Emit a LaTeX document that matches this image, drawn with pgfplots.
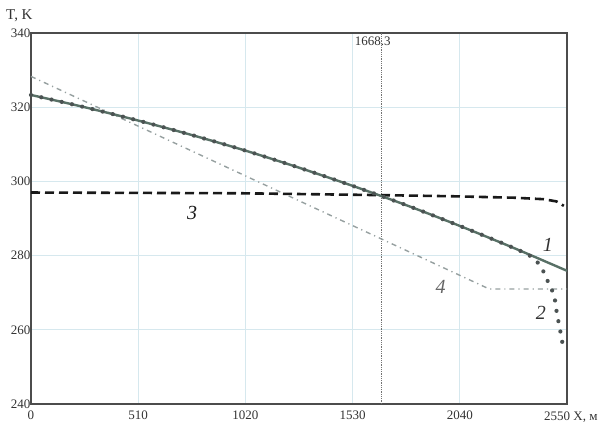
\documentclass[border=0pt]{standalone}
\usepackage{fontspec}
\setmainfont{Liberation Serif}
\usepackage{pgfplots}
\pgfplotsset{compat=1.18}
\definecolor{gridc}{RGB}{214,232,238}
\definecolor{c1}{RGB}{88,112,102}
\definecolor{c4}{RGB}{150,160,160}
\definecolor{c2}{RGB}{75,82,82}
\begin{document}
\begin{tikzpicture}
\begin{axis}[
 scale only axis, width=536pt, height=371pt,
 xmin=0,xmax=2550,ymin=240,ymax=340,
 xtick={0,510,1020,1530,2040,2550},
 xticklabels={0,510,1020,1530,2040,{}},
 ytick={240,260,280,300,320,340},
 major tick length=0pt,
 grid=major, major grid style={gridc, line width=0.8pt},
 axis line style={black!70, line width=1.2pt},
 tick label style={font=\fontsize{13}{15}\selectfont, text=black!80},
 /pgf/number format/assume math mode=true,
 /pgf/number format/set thousands separator={},
 xticklabel style={yshift=-3pt},
 yticklabel style={xshift=3pt},
 clip=false,
]
% marker line
\addplot[black!55, densely dotted, line width=0.8pt] coordinates {(1668.3,240) (1668.3,340)};
% curve 4
\addplot[c4, line width=1.4pt, dash pattern=on 5pt off 4pt on 1.2pt off 4pt] coordinates {
(0,328.3) (2180,271) (2550,271)};
% curve 3
\addplot[black!90, line width=2.6pt, dash pattern=on 9pt off 5pt] coordinates {
(0,297) (1000,296.8) (1668,296.3) (2000,296) (2300,295.6) (2440,295.2) (2500,294.6) (2535,293.4)};
% curve 1
\addplot[c1, line width=2.4pt, smooth] coordinates {
(0,323.3) (255,320.0) (510,316.4) (765,312.5) (1020,308.3) (1275,303.7) (1530,298.8) (1785,293.6) (2040,288.0) (2295,282.1) (2550,275.9)};
% curve 2
\addplot[c2, line width=4.2pt, line cap=round, dash pattern=on 0pt off 10.5pt, smooth] coordinates {
(0,323.3) (255,320.0) (510,316.4) (765,312.5) (1020,308.3) (1275,303.7) (1530,298.8) (1785,293.6) (2040,288.0) (2295,282.1) (2393,279.2) (2440,275.5) (2464,272.3) (2488,269.4) (2498,265.8) (2507,262.9) (2517,260) (2528,256.5)};
\node[font=\fontsize{20}{21}\selectfont\itshape, text=black!80] at (axis cs:2459,283) {1};
\node[font=\fontsize{20}{21}\selectfont\itshape, text=black!80] at (axis cs:2426,264.5) {2};
\node[font=\fontsize{20}{21}\selectfont\itshape, text=black!90] at (axis cs:767,291.5) {3};
\node[font=\fontsize{20}{21}\selectfont\itshape, text=black!60] at (axis cs:1949,271.5) {4};
\node[font=\fontsize{13}{15}\selectfont, text=black!80, anchor=north, inner sep=1pt] at ([xshift=-9pt,yshift=-3pt]axis cs:1668.3,340) {1668.3};
\node[font=\fontsize{13}{15}\selectfont, text=black!80, anchor=base west, inner sep=0pt] at ([xshift=-23pt,yshift=-17pt]rel axis cs:1,0) {2550\ X, м};
\node[font=\fontsize{15}{17}\selectfont, text=black!80, anchor=west, inner sep=0pt] at ([xshift=-25pt,yshift=17pt]rel axis cs:0,1) {T, K};
\end{axis}
\pgfresetboundingbox
\path ([xshift=-31pt,yshift=-29pt]current axis.south west) rectangle ([xshift=38pt,yshift=33pt]current axis.north east);
\end{tikzpicture}
\end{document}
